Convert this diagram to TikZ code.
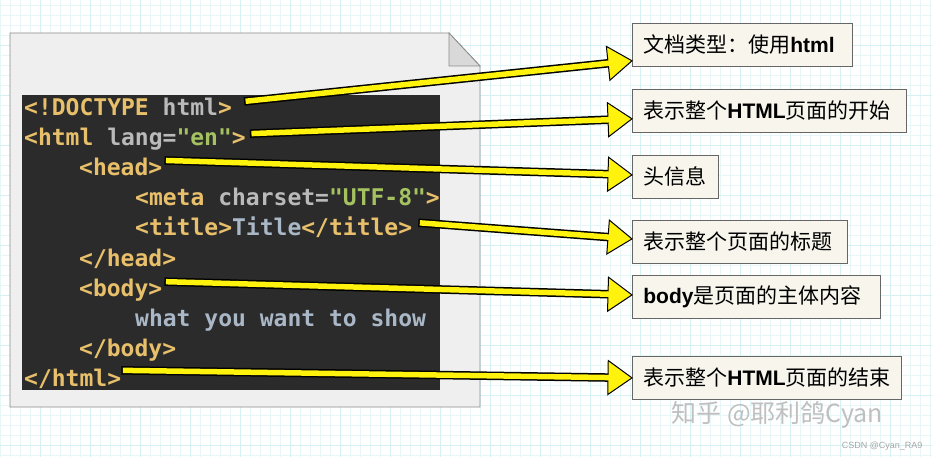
\documentclass[tikz,border=0pt]{standalone}
\usepackage{fontspec}
\setmonofont{DejaVu Sans Mono}
\newfontfamily\cjk{Noto Sans CJK SC}
\newfontfamily\lat{Liberation Sans}
\usetikzlibrary{calc}
\definecolor{tagc}{HTML}{E8BF6A}
\definecolor{attrc}{HTML}{BABABA}
\definecolor{valc}{HTML}{A5C261}
\definecolor{txtc}{HTML}{A9B7C6}
\definecolor{codebg}{HTML}{2B2B2B}
\definecolor{paper}{HTML}{EFEFEF}
\definecolor{boxbg}{HTML}{F7F5EC}
\definecolor{gridc}{HTML}{D6F1F4}
\newcommand{\tg}[1]{\textcolor{tagc}{#1}}
\newcommand{\at}[1]{\textcolor{attrc}{#1}}
\newcommand{\vl}[1]{\textcolor{valc}{#1}}
\newcommand{\bl}[1]{{\lat\bfseries #1}}
% yellow arrow: shaft + head
\newcommand{\yarrow}[2]{%
  \path (#2) coordinate (tip) ($(#2)!24pt!(#1)$) coordinate (hb)
    ($(hb)!17pt!90:(tip)$) coordinate (h1) ($(hb)!17pt!-90:(tip)$) coordinate (h2);
  \draw[line width=8.5pt, black] (#1) -- (hb);
  \draw[line width=5.5pt, yellow!95!white, shorten <=1.5pt] (#1) -- (hb);
  \filldraw[fill=yellow!95!white, draw=black, line width=1pt, line join=miter] (h1) -- (tip) -- (h2) -- cycle;
  \draw[line width=5.5pt, yellow!95!white] ($(hb)!-1pt!(tip)$) -- ($(hb)!2pt!(tip)$);}
\begin{document}
\begin{tikzpicture}[x=1pt, y=-1pt,
  code/.style={anchor=base west, inner sep=0pt, font=\ttfamily\bfseries\fontsize{23}{24}\selectfont},
  note/.style={draw=black!60, fill=boxbg, line width=0.8pt, anchor=north west, inner xsep=11pt, inner ysep=0pt,
    minimum height=43pt, text width=#1, align=left, font=\cjk\fontsize{21}{23}\selectfont}]
\useasboundingbox (0,0) rectangle (932,457);
\fill[white] (0,0) rectangle (932,457);
% grid
\foreach \x in {0,10,...,930} \draw[gridc!60, line width=0.4pt] (\x,0) -- (\x,457);
\foreach \y in {5,15,...,455} \draw[gridc!60, line width=0.4pt] (0,\y) -- (932,\y);
\foreach \x in {40,90,...,930} \draw[gridc, line width=0.8pt] (\x,0) -- (\x,457);
\foreach \y in {45,95,...,455} \draw[gridc, line width=0.8pt] (0,\y) -- (932,\y);
% page with folded corner
\filldraw[fill=paper, draw=black!45, line width=0.8pt] (10,33) -- (449,33) -- (480,66) -- (480,407) -- (10,407) -- cycle;
\filldraw[fill=black!15, draw=black!45, line width=0.8pt] (449,33) -- (449,66) -- (480,66) -- cycle;
\fill[codebg] (22,95) rectangle (440,390);
% code lines
\node[code] (doctype) at (24,116) {\tg{<!DOCTYPE} \at{html}\tg{>}};
\node[code] (html) at (24,146) {\tg{<html} \at{lang=}\vl{"en"}\tg{>}};
\node[code] (head) at (79,176) {\tg{<head>}};
\node[code] (meta) at (135,206) {\tg{<meta} \at{charset=}\vl{"UTF-8"}\tg{>}};
\node[code] (title) at (135,236) {\tg{<title>}\textcolor{txtc}{Title}\tg{</title>}};
\node[code] (headend) at (79,266) {\tg{</head>}};
\node[code] (body) at (79,296) {\tg{<body>}};
\node[code] (show) at (135,326) {\textcolor{txtc}{what you want to show}};
\node[code] (bodyend) at (79,356) {\tg{</body>}};
\node[code] (htmlend) at (24,386) {\tg{</html>}};
% notes
\node[note=198pt] (n1) at (632,23) {文档类型：使用\bl{html}};
\node[note=252pt] (n2) at (632,89) {表示整个\bl{HTML}页面的开始};
\node[note=64pt] (n3) at (632,155) {头信息};
\node[note=193pt] (n4) at (632,220) {表示整个页面的标题};
\node[note=226pt] (n5) at (632,275) {\bl{body}是页面的主体内容};
\node[note=247pt] (n6) at (632,356) {表示整个\bl{HTML}页面的结束};
% arrows
\yarrow{$(doctype.east)+(12,-6)$}{$(n1.south west)+(0,-6)$}
\yarrow{$(html.east)+(4,-6)$}{$(n2.south west)+(0,-14)$}
\yarrow{$(head.east)+(2,-7)$}{$(n3.west)+(0,-2)$}
\yarrow{$(title.east)+(6,-5)$}{$(n4.west)+(0,-3)$}
\yarrow{$(body.east)+(2,-8)$}{$(n5.west)+(0,-2)$}
\yarrow{$(htmlend.east)+(0,-8)$}{$(n6.west)$}
% watermarks
\node[anchor=west, text=black!25, font=\cjk\fontsize{25}{27}\selectfont] (wm) at (668,415) {知乎 @耶利鸽Cyan};
\node[anchor=east, text=black!35, font=\lat\fontsize{9}{10}\selectfont] (csdn) at (926,446) {CSDN @Cyan\_RA9};
\end{tikzpicture}
\end{document}
